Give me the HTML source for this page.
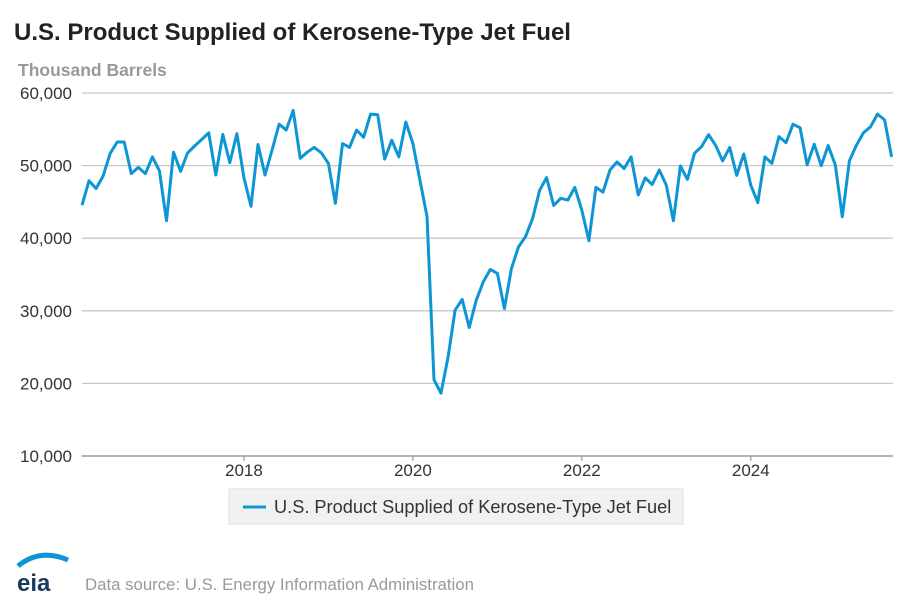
<!DOCTYPE html>
<html><head><meta charset="utf-8"><style>
body{margin:0;background:#fff;font-family:"Liberation Sans",Arial,sans-serif;}
#wrap{position:relative;width:914px;height:609px;overflow:hidden;}
</style></head><body>
<div id="wrap">
<svg id="chart" width="914" height="609" xmlns="http://www.w3.org/2000/svg">
<text x="14" y="40" font-size="24" font-weight="bold" fill="#222">U.S. Product Supplied of Kerosene-Type Jet Fuel</text>
<text x="18" y="76" font-size="17.5" font-weight="bold" fill="#999">Thousand Barrels</text>
<g id="grid"></g><g id="yticks"></g><g id="xticks"></g><g id="series"></g>
<g>
<rect x="229" y="489" width="454" height="35" fill="#f1f1f1" stroke="#ddd"/>
<line x1="243" y1="507" x2="266" y2="507" stroke="#0e96d4" stroke-width="3"/>
<text x="274" y="513" font-size="18.2" fill="#333">U.S. Product Supplied of Kerosene-Type Jet Fuel</text>
</g>
<g>
<path d="M18 566 Q40 548 68 560" stroke="#0e96d4" stroke-width="5" fill="none"/>
<text x="17" y="591" font-size="24" font-weight="bold" fill="#1a3a5c">eia</text>
</g>
<text x="85" y="590" font-size="16.8" fill="#999">Data source: U.S. Energy Information Administration</text>
</svg>
</div>
<script>
const values = [44550,47900,46850,48550,51700,53250,53250,48900,49750,48900,51200,49300,42400,51850,49200,51750,52700,53600,54500,48700,54300,50400,54400,48350,44400,52900,48700,52150,55700,54900,57600,51000,51850,52500,51750,50300,44800,53050,52500,54900,53900,57100,57000,50900,53500,51200,56000,53050,48000,43000,20500,18650,23650,30100,31550,27700,31450,34000,35700,35150,30300,35800,38800,40200,42700,46600,48350,44500,45500,45250,47000,43850,39650,47000,46350,49400,50500,49600,51200,45950,48300,47400,49400,47300,42400,49950,48100,51700,52600,54250,52800,50650,52500,48650,51600,47300,44900,51200,50300,54000,53150,55700,55200,50100,52950,50000,52750,50100,42950,50650,52800,54500,55350,57100,56300,51200];
const yTicks = [10000,20000,30000,40000,50000,60000];
const yTickLabels = ["10,000","20,000","30,000","40,000","50,000","60,000"];
const xTickYears = [2018,2020,2022,2024];
const startYear = 2016, startMonth = 1; // Feb 2016 (0-based month)
const NS="http://www.w3.org/2000/svg";
const X0=82,X1=891.6,YTOP=93,YBOT=456,VMIN=10000,VMAX=60000;
function xs(i){return X0+i*(X1-X0)/(values.length-1);}
function ys(v){return YBOT-(v-VMIN)/(VMAX-VMIN)*(YBOT-YTOP);}
function mk(tag,attrs,parent){const e=document.createElementNS(NS,tag);for(const k in attrs)e.setAttribute(k,attrs[k]);parent.appendChild(e);return e;}
const grid=document.getElementById('grid'),yt=document.getElementById('yticks'),xt=document.getElementById('xticks'),ser=document.getElementById('series');
yTicks.forEach((v,k)=>{
 const l=mk('line',{x1:X0,x2:893,y1:ys(v),y2:ys(v),stroke:k===0?'#888':'#c8c8c8','stroke-width':1.3},grid);
 
 
 const t=mk('text',{x:72,y:ys(v)+6,'text-anchor':'end','font-size':17,fill:'#333'},yt);
 t.textContent=yTickLabels[k];
 
 
});
xTickYears.forEach(yr=>{
 const i=(yr-startYear)*12-startMonth;
 const tk=mk('line',{x1:xs(i),x2:xs(i),y1:YBOT,y2:YBOT+5,stroke:'#888'},xt);
 
 
 const t=mk('text',{x:xs(i),y:YBOT+20,'text-anchor':'middle','font-size':17,fill:'#333'},xt);
 t.textContent=yr;
 
 
});
const d=values.map((v,i)=>(i?'L':'M')+xs(i).toFixed(1)+' '+ys(v).toFixed(1)).join(' ');
const p=mk('path',{d:d,fill:'none',stroke:'#0e96d4','stroke-width':3,'stroke-linejoin':'round'},ser);


</script>
</body></html>
